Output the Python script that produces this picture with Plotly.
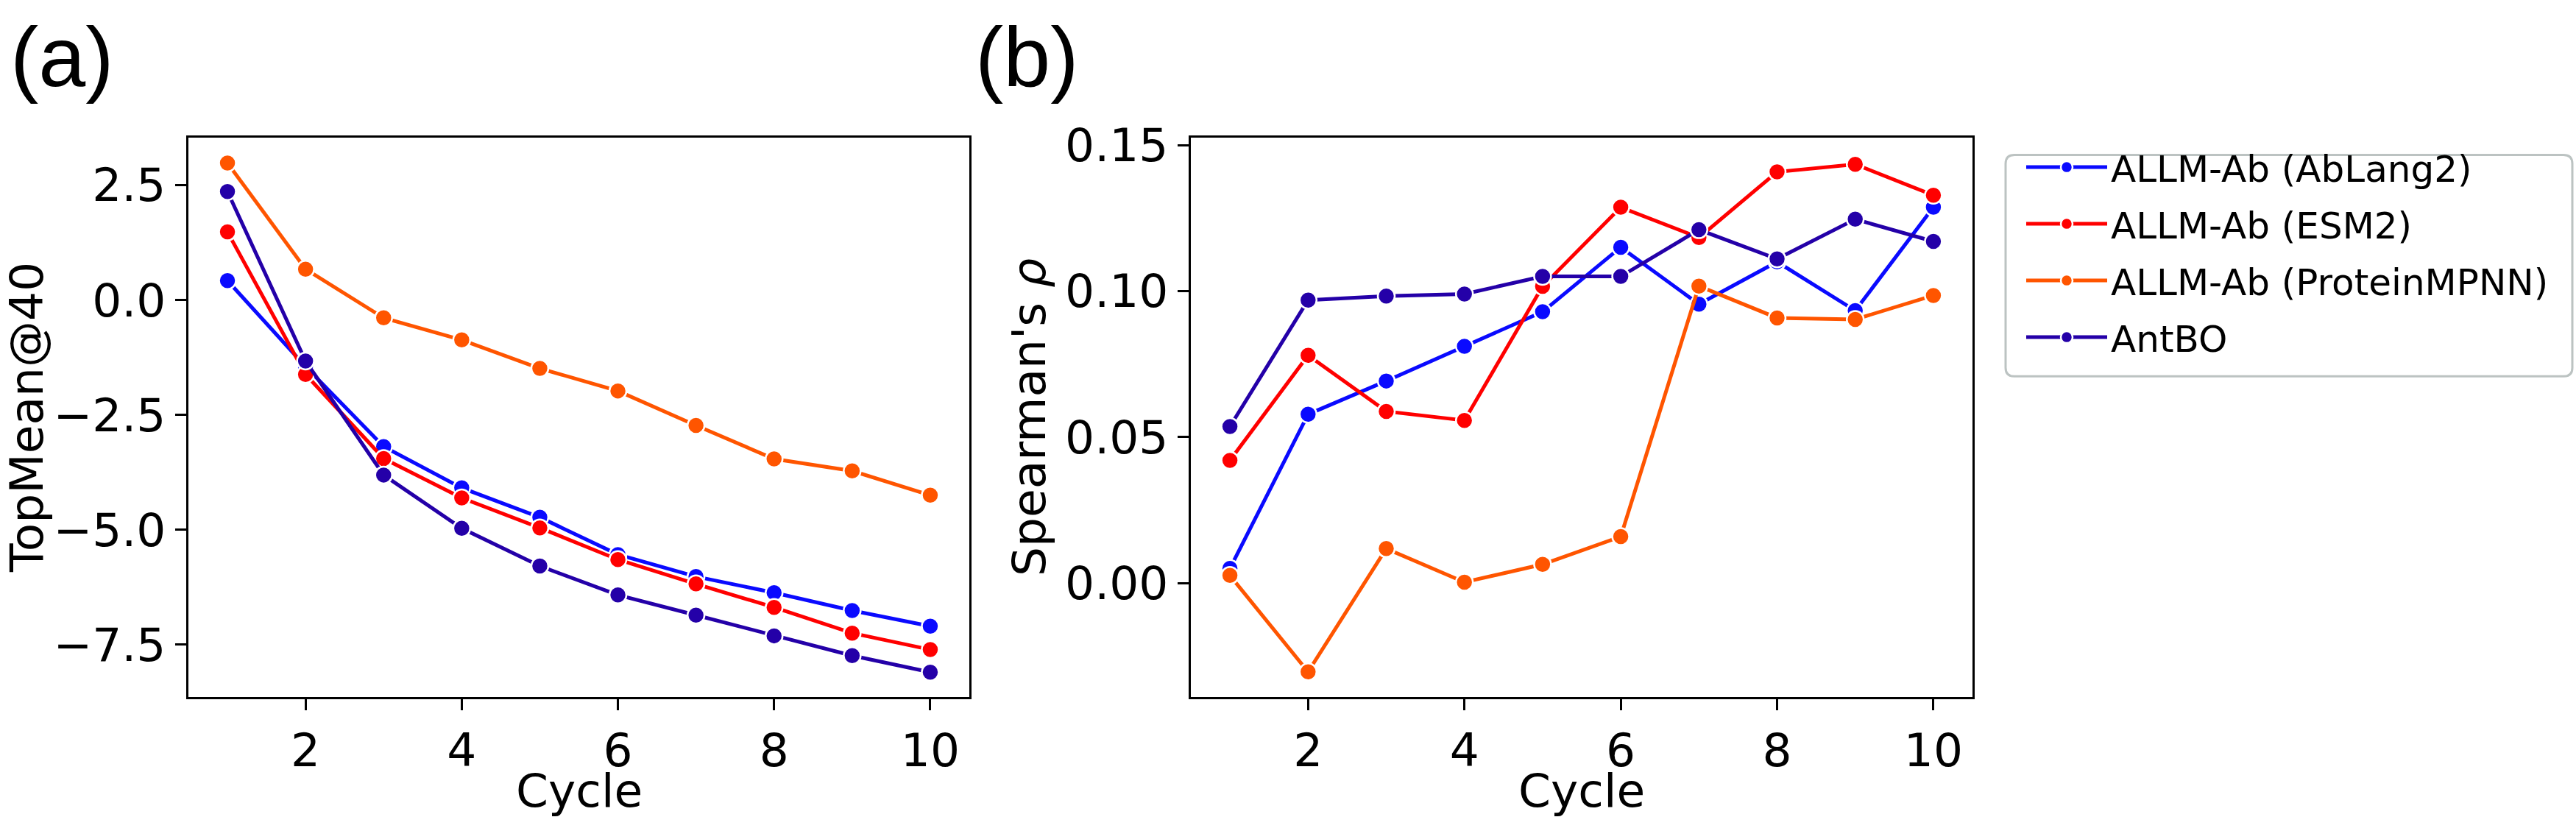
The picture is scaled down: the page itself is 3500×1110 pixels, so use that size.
import plotly.graph_objects as go

W, H = 3500, 1110

cycles = [1, 2, 3, 4, 5, 6, 7, 8, 9, 10]
series_names = ["ALLM-Ab (AbLang2)", "ALLM-Ab (ESM2)", "ALLM-Ab (ProteinMPNN)", "AntBO"]
series_colors = ["#0A0AFF", "#FF0000", "#FF5500", "#2400A8"]

topmean_ablang2 = [0.42, -1.45, -3.19, -4.09, -4.73, -5.54, -6.02, -6.37, -6.76, -7.10]
topmean_esm2 = [1.48, -1.62, -3.45, -4.31, -4.96, -5.65, -6.18, -6.69, -7.25, -7.61]
topmean_mpnn = [2.98, 0.67, -0.39, -0.87, -1.49, -1.98, -2.73, -3.46, -3.72, -4.25]
topmean_antbo = [2.36, -1.33, -3.81, -4.97, -5.79, -6.42, -6.86, -7.31, -7.74, -8.10]

spearman_ablang2 = [0.005, 0.0578, 0.0692, 0.0811, 0.0929, 0.115, 0.0955, 0.110, 0.0933, 0.1287]
spearman_esm2 = [0.042, 0.078, 0.0588, 0.0557, 0.1016, 0.1287, 0.1183, 0.1408, 0.1434, 0.1328]
spearman_mpnn = [0.0026, -0.0304, 0.0118, 0.0003, 0.0064, 0.0159, 0.1017, 0.0908, 0.0903, 0.0985]
spearman_antbo = [0.0536, 0.0969, 0.0983, 0.099, 0.105, 0.105, 0.121, 0.111, 0.1246, 0.1170]

x_ticks = [2, 4, 6, 8, 10]
a_y_ticks = [-7.5, -5.0, -2.5, 0.0, 2.5]
a_y_ticktext = ["\u22127.5", "\u22125.0", "\u22122.5", "0.0", "2.5"]
b_y_ticks = [0.0, 0.05, 0.10, 0.15]
b_y_ticktext = ["0.00", "0.05", "0.10", "0.15"]

topmean = [topmean_ablang2, topmean_esm2, topmean_mpnn, topmean_antbo]
spearman = [spearman_ablang2, spearman_esm2, spearman_mpnn, spearman_antbo]

FONT = "DejaVu Sans"
TICK_SIZE = 63

def px_x(p):
    return p / W

def px_y(p):
    return 1 - p / H

fig = go.Figure()

for name, color, ya, yb in zip(series_names, series_colors, topmean, spearman):
    common = dict(
        mode="lines+markers",
        line=dict(color=color, width=5),
        marker=dict(color=color, size=23, line=dict(color="white", width=2.5)),
        name=name,
        legendgroup=name,
    )
    fig.add_trace(go.Scatter(x=cycles, y=ya, xaxis="x", yaxis="y", showlegend=True, **common))
    fig.add_trace(go.Scatter(x=cycles, y=yb, xaxis="x2", yaxis="y2", showlegend=False, **common))

axis_common = dict(
    showline=True, mirror=True, linecolor="black", linewidth=3,
    ticks="outside", ticklen=15, tickwidth=3, tickcolor="black",
    showgrid=False, zeroline=False,
    tickfont=dict(family=FONT, size=TICK_SIZE, color="black"),
)

ydom = [px_y(943), px_y(165)]

fig.update_layout(
    width=W, height=H,
    margin=dict(l=0, r=0, t=0, b=0),
    paper_bgcolor="white", plot_bgcolor="white",
    xaxis=dict(domain=[px_x(256), px_x(1317)], range=[0.5, 10.5],
               tickvals=x_ticks, anchor="y", **axis_common),
    yaxis=dict(domain=ydom, range=[-8.64, 3.53], tickvals=a_y_ticks,
               ticktext=a_y_ticktext, anchor="x", **axis_common),
    xaxis2=dict(domain=[px_x(1618), px_x(2680)], range=[0.5, 10.5],
                tickvals=x_ticks, anchor="y2", **axis_common),
    yaxis2=dict(domain=ydom, range=[-0.039, 0.1525], tickvals=b_y_ticks,
                ticktext=b_y_ticktext, anchor="x2", **axis_common),
    showlegend=True,
    legend=dict(
        x=px_x(2748), y=px_y(166), xanchor="left", yanchor="top",
        font=dict(family=FONT, size=50, color="black"),
        bgcolor="rgba(0,0,0,0)", borderwidth=0,
        itemwidth=110, tracegroupgap=9,
    ),
)

# rounded legend frame
x0, x1 = px_x(2725), px_x(3495)
y0, y1 = px_y(497), px_y(189)
rx, ry = 12 / W, 12 / H
path = (f"M{x0+rx},{y1} L{x1-rx},{y1} Q{x1},{y1} {x1},{y1-ry} "
        f"L{x1},{y0+ry} Q{x1},{y0} {x1-rx},{y0} L{x0+rx},{y0} "
        f"Q{x0},{y0} {x0},{y0+ry} L{x0},{y1-ry} Q{x0},{y1} {x0+rx},{y1} Z")
fig.add_shape(type="path", path=path, xref="paper", yref="paper",
              line=dict(color="#BCC3C2", width=3), fillcolor="white", layer="below")

annots = [
    dict(text="(a)", x=px_x(12), y=px_y(52), xanchor="left", yanchor="middle",
         font=dict(family="Liberation Sans", size=115, color="black")),
    dict(text="(b)", x=px_x(1323), y=px_y(52), xanchor="left", yanchor="middle",
         font=dict(family="Liberation Sans", size=115, color="black")),
    dict(text="Cycle", x=(px_x(256) + px_x(1317)) / 2, y=px_y(1074), xanchor="center", yanchor="middle",
         font=dict(family=FONT, size=TICK_SIZE, color="black")),
    dict(text="Cycle", x=(px_x(1618) + px_x(2680)) / 2, y=px_y(1074), xanchor="center", yanchor="middle",
         font=dict(family=FONT, size=TICK_SIZE, color="black")),
    dict(text="TopMean@40", x=px_x(36), y=(ydom[0] + ydom[1]) / 2, xanchor="center", yanchor="middle",
         textangle=-90, font=dict(family=FONT, size=TICK_SIZE, color="black")),
    dict(text="Spearman's <i>\u03c1</i>", x=px_x(1398), y=(ydom[0] + ydom[1]) / 2, xanchor="center",
         yanchor="middle", textangle=-90, font=dict(family=FONT, size=TICK_SIZE, color="black")),
]
for a in annots:
    fig.add_annotation(xref="paper", yref="paper", showarrow=False, **a)

fig.write_html("out.html")
